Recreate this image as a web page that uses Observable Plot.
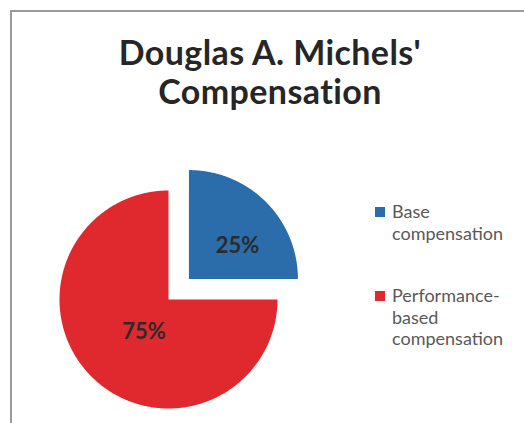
<!DOCTYPE html>
<html>
<head>
<meta charset="utf-8">
<script src="https://cdn.jsdelivr.net/npm/d3@7"></script>
<script src="https://cdn.jsdelivr.net/npm/@observablehq/plot@0.6"></script>
<style>
  html, body { margin: 0; padding: 0; background: #fff; }
  #wrap { position: relative; width: 524px; height: 423px; overflow: hidden; font-family: Lato, "Open Sans", sans-serif; }
  #frame { position: absolute; left: 10px; top: 10px; right: -5px; bottom: -5px; border-top: 2px solid #9a9a9a; border-left: 2px solid #9a9a9a; }
  #title { position: absolute; left: 0; width: 540px; top: 32px; text-align: center; font-weight: 700; font-size: 34px; letter-spacing: 0.4px; line-height: 39px; color: #262626; }
  #plot { position: absolute; left: 0; top: 0; }
  #legend { position: absolute; left: 375px; top: 201px; color: #595959; font-size: 18px; line-height: 21.5px; }
  .item { position: relative; padding-left: 17px; }
  .sw { position: absolute; left: 0; top: 6px; width: 10px; height: 10px; }
</style>
</head>
<body>
<div id="wrap">
  <div id="frame"></div>
  <div id="plot"></div>
  <div id="title">Douglas A. Michels'<br>Compensation</div>
  <div id="legend"></div>
</div>
<script>
// ---- data ----
const categories = ["Base compensation", "Performance-based compensation"];
const shares = [25, 75];
const sliceLabels = ["25%", "75%"];
const legendLines = [["Base", "compensation"], ["Performance-", "based", "compensation"]];
const colors = ["#2b6cab", "#e0292f"];
const explode = [0.265, 0];

// ---- layout ----
const W = 524, H = 423;
const R = 109;               // pie radius in px
const cx = 168, cy = 299;    // pie centre in px
const labelNudge = [[10, 5], [14, -6]];

const arcs = d3.pie().sort(null).value(d => d)(shares);
const outline = [];
const labels = [];
arcs.forEach((a, i) => {
  const mid = (a.startAngle + a.endAngle) / 2;
  const ox = explode[i] * Math.sin(mid), oy = explode[i] * Math.cos(mid);
  const cat = categories[i];
  outline.push({cat, x: ox, y: oy});
  const n = Math.max(8, Math.ceil((a.endAngle - a.startAngle) / (Math.PI / 360)));
  for (let k = 0; k <= n; k++) {
    const t = a.startAngle + (a.endAngle - a.startAngle) * k / n;
    outline.push({cat, x: ox + Math.sin(t), y: oy + Math.cos(t)});
  }
  outline.push({cat, x: ox, y: oy});
  labels.push({cat, text: sliceLabels[i], x: ox + 0.5 * Math.sin(mid), y: oy + 0.5 * Math.cos(mid), i});
});

const chart = Plot.plot({
  width: W, height: H,
  margin: 0,
  x: {domain: [-cx / R, (W - cx) / R], range: [0, W], axis: null},
  y: {domain: [-(H - cy) / R, cy / R], range: [H, 0], axis: null},
  color: {domain: categories, range: colors},
  style: {background: "transparent", overflow: "visible"},
  marks: [
    Plot.line(outline, {x: "x", y: "y", z: "cat", fill: "cat", stroke: null, curve: "linear"}),
    ...labels.map(l => Plot.text([l], {
      x: "x", y: "y", text: "text",
      dx: labelNudge[l.i][0], dy: labelNudge[l.i][1],
      fontSize: 22, fontWeight: 700, fill: "#2b2b2b",
      fontFamily: "Lato, 'Open Sans', sans-serif"
    }))
  ]
});
document.getElementById("plot").appendChild(chart);

// legend
const legend = document.getElementById("legend");
const legendTops = [0, 84];
categories.forEach((c, i) => {
  const div = document.createElement("div");
  div.className = "item";
  div.style.position = "absolute";
  div.style.top = legendTops[i] + "px";
  div.style.whiteSpace = "nowrap";
  const sw = document.createElement("span");
  sw.className = "sw";
  sw.style.background = colors[i];
  div.appendChild(sw);
  div.insertAdjacentHTML("beforeend", legendLines[i].join("<br>"));
  legend.appendChild(div);
});
</script>
</body>
</html>
